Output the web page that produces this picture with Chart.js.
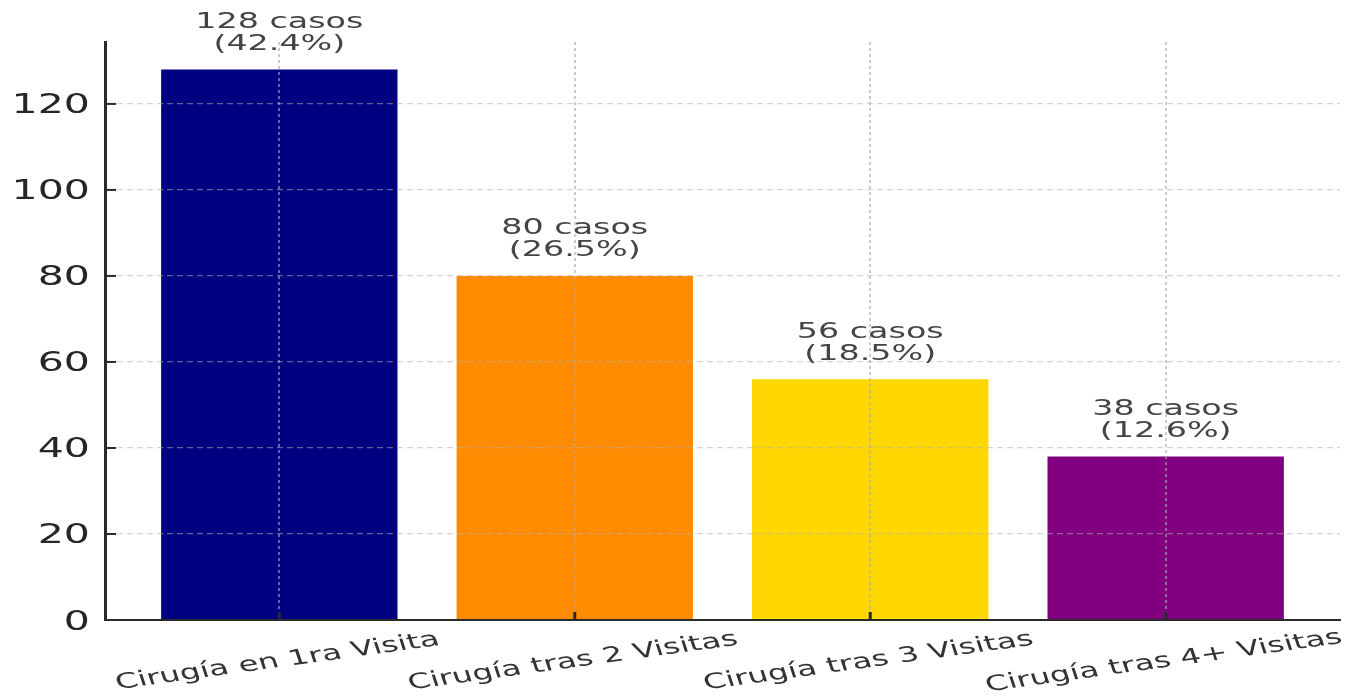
<!DOCTYPE html>
<html>
<head>
<meta charset="utf-8">
<script src="https://cdn.jsdelivr.net/npm/chart.js@4"></script>
<style>
  html, body { margin: 0; padding: 0; background: #ffffff; }
  canvas { display: block; }
</style>
</head>
<body>
<canvas id="c" width="1358" height="700"></canvas>
<script>
// Cirugías según el número de visitas previas
const categories = [
  'Cirugía en 1ra Visita',
  'Cirugía tras 2 Visitas',
  'Cirugía tras 3 Visitas',
  'Cirugía tras 4+ Visitas'
];
const casos = [128, 80, 56, 38];
const barColors = ['#000080', '#FF8C00', '#FFD700', '#800080'];
const yTicks = [0, 20, 40, 60, 80, 100, 120];

// axis ranges (bars plus a small margin on every side)
const yMax = 134.4;
const xMin = -0.59;
const xMax = 3.59;

const total = casos.reduce((a, b) => a + b, 0);
const FONT = '"DejaVu Sans", sans-serif';
const SX = 1.55;           // horizontal widening of every text
const GRID = 'rgba(176,176,176,0.55)';
const GRID_V = 'rgba(170,170,170,0.6)';
const INK = '#2a2a2a';

function wideText(ctx, text, x, y, size, color, align, angle) {
  ctx.save();
  ctx.translate(x, y);
  ctx.scale(SX, 1);
  if (angle) ctx.rotate(-angle * Math.PI / 180);
  ctx.font = size + 'px ' + FONT;
  ctx.fillStyle = color;
  ctx.textAlign = align;
  ctx.textBaseline = 'alphabetic';
  ctx.fillText(text, 0, 0);
  ctx.restore();
}

// inward tick marks, tick labels and the value labels over each bar
const decor = {
  id: 'decor',
  afterDraw(chart) {
    const ctx = chart.ctx;
    const xs = chart.scales.x;
    const ys = chart.scales.y;
    const area = chart.chartArea;

    ctx.save();
    ctx.strokeStyle = INK;
    ctx.lineWidth = 2;
    yTicks.forEach(v => {
      const py = ys.getPixelForValue(v);
      ctx.beginPath();
      ctx.moveTo(area.left, py);
      ctx.lineTo(area.left + 11, py);
      ctx.stroke();
    });
    ctx.lineWidth = 3;
    categories.forEach((c, i) => {
      const px = xs.getPixelForValue(i);
      ctx.beginPath();
      ctx.moveTo(px, area.bottom);
      ctx.lineTo(px, area.bottom - 8);
      ctx.stroke();
    });
    ctx.restore();

    yTicks.forEach(v => {
      wideText(ctx, String(v), area.left - 15, ys.getPixelForValue(v) + 9.5, 26.5, '#262626', 'right');
    });

    categories.forEach((c, i) => {
      wideText(ctx, c, xs.getPixelForValue(i), area.bottom + 47, 21, '#333333', 'center', 12);
    });

    casos.forEach((v, i) => {
      const px = xs.getPixelForValue(i);
      const top = ys.getPixelForValue(v);
      const pct = (v / total * 100).toFixed(1);
      wideText(ctx, v + ' casos', px, top - 41.6, 21.5, '#444444', 'center');
      wideText(ctx, '(' + pct + '%)', px, top - 19.6, 21.5, '#444444', 'center');
    });
  }
};

new Chart(document.getElementById('c'), {
  type: 'bar',
  data: {
    datasets: [{
      data: casos.map((v, i) => ({ x: i, y: v })),
      backgroundColor: barColors,
      borderWidth: 0,
      categoryPercentage: 0.8,
      barPercentage: 1.0
    }]
  },
  options: {
    responsive: false,
    animation: false,
    layout: { padding: { top: 42, right: 18, left: 0, bottom: 0 } },
    plugins: {
      legend: { display: false },
      tooltip: { enabled: false }
    },
    scales: {
      x: {
        type: 'linear',
        offset: false,
        min: xMin,
        max: xMax,
        afterBuildTicks: scale => { scale.ticks = categories.map((c, i) => ({ value: i })); },
        afterFit: scale => { scale.height = 80; },
        ticks: { display: false },
        grid: { color: GRID_V, lineWidth: 2, drawTicks: false, offset: false, z: 1 },
        border: { display: true, color: INK, width: 2, dash: [3, 3], z: 2 }
      },
      y: {
        min: 0,
        max: yMax,
        afterBuildTicks: scale => { scale.ticks = yTicks.map(v => ({ value: v })); },
        afterFit: scale => { scale.width = 105; },
        ticks: { display: false },
        grid: { color: GRID, lineWidth: 1.2, drawTicks: false, z: 1 },
        border: { display: true, color: INK, width: 3, dash: [6, 4], z: 2 }
      }
    }
  },
  plugins: [decor]
});
</script>
</body>
</html>
